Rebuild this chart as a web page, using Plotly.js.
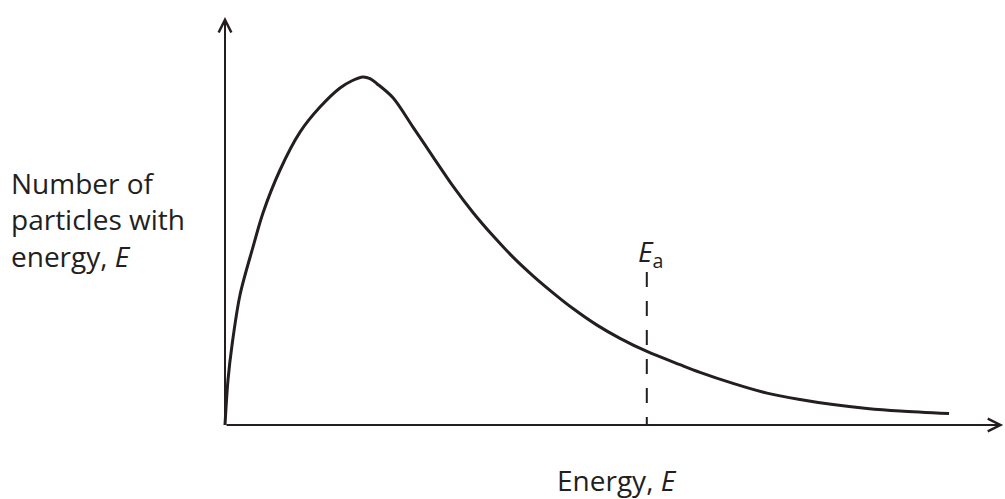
<!DOCTYPE html>
<html>
<head>
<meta charset="utf-8">
<script src="https://cdn.plot.ly/plotly-3.0.1.min.js"></script>
<style>
  html, body { margin: 0; padding: 0; background: #fff; }
  #chart { width: 1005px; height: 499px; }
</style>
</head>
<body>
<div id="chart"></div>
<script>
// energy values and particle counts
var energy = [0, 0.05, 0.117, 0.25, 0.467, 0.633, 0.917, 1.25, 1.583, 1.917, 2.117, 2.3, 2.417, 2.533, 2.8,
    3.133, 3.467, 3.8, 4.133, 4.467, 4.8, 5.133, 5.467, 5.8, 6.2, 6.583, 7.033, 7.583, 7.917,
    8.467, 9.033, 9.583, 10.133, 10.7, 11.25, 12.067];
var particles = [0, 1.06, 1.88, 3.06, 4.19, 4.99, 6.0, 6.89, 7.48, 7.93, 8.1, 8.19, 8.15, 8.03, 7.7,
    7.01, 6.31, 5.62, 5.0, 4.45, 3.95, 3.51, 3.11, 2.74, 2.35, 2.04, 1.73, 1.42, 1.24,
    0.98, 0.75, 0.6, 0.48, 0.39, 0.33, 0.27];

var activationEnergy = 7.03;
var dashTop = 3.6;
var axisEndX = 12.97;
var axisEndY = 9.6;

var ink = '#231f20';
var font = {family: 'Open Sans, sans-serif', size: 28, color: ink};

var curve = {
    x: energy,
    y: particles,
    mode: 'lines',
    type: 'scatter',
    line: {color: ink, width: 3, shape: 'spline', smoothing: 0.9},
    hoverinfo: 'skip'
};

var eaLine = {
    x: [activationEnergy, activationEnergy],
    y: [dashTop, 0],
    mode: 'lines',
    type: 'scatter',
    line: {color: ink, width: 2, dash: '15px,14px'},
    hoverinfo: 'skip'
};

var hidden = {
    showgrid: false,
    zeroline: false,
    showline: false,
    showticklabels: false,
    ticks: '',
    fixedrange: true
};

var layout = {
    width: 1005,
    height: 499,
    margin: {l: 205, r: 0, t: 0, b: 54},
    paper_bgcolor: '#fff',
    plot_bgcolor: '#fff',
    showlegend: false,
    xaxis: Object.assign({range: [-1 / 3, 13]}, hidden),
    yaxis: Object.assign({range: [-0.4706, 10]}, hidden),
    annotations: [
        // axes with open arrow heads
        {x: 0, y: axisEndY, ax: 0, ay: 0, axref: 'x', ayref: 'y', xref: 'x', yref: 'y',
            text: '', showarrow: true, arrowhead: 5, arrowsize: 1.25, arrowwidth: 2, arrowcolor: ink},
        {x: axisEndX, y: 0, ax: 0, ay: 0, axref: 'x', ayref: 'y', xref: 'x', yref: 'y',
            text: '', showarrow: true, arrowhead: 5, arrowsize: 1.25, arrowwidth: 2, arrowcolor: ink},
        {x: -0.245, y: 0.507, xref: 'paper', yref: 'paper', xanchor: 'left', yanchor: 'middle', align: 'left',
            text: 'Number of<br>particles with<br>energy, <i>E</i>', showarrow: false, font: font},
        {x: 0.5156, y: -0.078, xref: 'paper', yref: 'paper', xanchor: 'center', yanchor: 'middle',
            text: 'Energy, <i>E</i>', showarrow: false, font: font},
        {x: activationEnergy, y: 4.05, xref: 'x', yref: 'y', xanchor: 'center', yanchor: 'middle',
            xshift: 4, text: '<i>E</i><sub>a</sub>', showarrow: false, font: font}
    ]
};

Plotly.newPlot('chart', [curve, eaLine], layout, {staticPlot: true, displayModeBar: false});
</script>
</body>
</html>
